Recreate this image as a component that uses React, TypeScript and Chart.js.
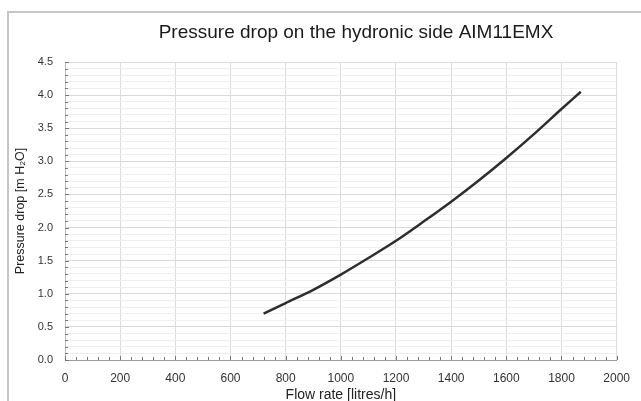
import React, { useEffect, useRef } from "react";
import { Chart, registerables } from "chart.js";

Chart.register(...registerables);

const TITLE = "Pressure drop on the hydronic side AIM11EMX";
const X_TITLE = "Flow rate [litres/h]";
const Y_TITLE = "Pressure drop [m H₂O]";

const flowRate = [720, 800, 900, 1000, 1100, 1200, 1300, 1400, 1500, 1600, 1700, 1800, 1870];
const pressureDrop = [0.70, 0.86, 1.06, 1.29, 1.54, 1.80, 2.09, 2.39, 2.71, 3.05, 3.41, 3.79, 4.05];

const X_MIN = 0;
const X_MAX = 2000;
const X_STEP = 200;
const X_MINOR = 40;
const Y_MIN = 0;
const Y_MAX = 4.5;
const Y_MINOR = 0.1;

const FONT = "'Liberation Sans', Arial, sans-serif";

const isMajorY = (v: number) => Math.abs(v * 2 - Math.round(v * 2)) < 1e-6;

const titlePlugin = {
  id: "customTitle",
  afterDraw(chart: any) {
    const { ctx } = chart;
    ctx.save();
    ctx.fillStyle = "#1a1a1a";
    ctx.font = `19px ${FONT}`;
    ctx.textAlign = "center";
    ctx.textBaseline = "middle";
    ctx.fillText(TITLE, 356, 33);
    ctx.restore();
  },
};

const minorTicksPlugin = {
  id: "minorTicks",
  afterDatasetsDraw(chart: any) {
    const { ctx, chartArea, scales } = chart;
    const xs = scales.x;
    const ys = scales.y;
    ctx.save();
    ctx.strokeStyle = "#777";
    ctx.lineWidth = 1;
    ctx.beginPath();
    for (let v = X_MIN; v <= X_MAX + 1e-6; v += X_MINOR) {
      const px = Math.round(xs.getPixelForValue(v)) + 0.5;
      const len = Math.abs(v % X_STEP) < 1e-6 ? 4 : 3;
      ctx.moveTo(px, chartArea.bottom);
      ctx.lineTo(px, chartArea.bottom - len);
    }
    for (let i = 0; i <= Math.round((Y_MAX - Y_MIN) / Y_MINOR); i++) {
      const v = Y_MIN + i * Y_MINOR;
      const py = Math.round(ys.getPixelForValue(v)) + 0.5;
      const len = isMajorY(v) ? 4 : 3;
      ctx.moveTo(chartArea.left, py);
      ctx.lineTo(chartArea.left + len, py);
    }
    ctx.stroke();
    ctx.restore();
  },
};

export default function App() {
  const ref = useRef<HTMLCanvasElement | null>(null);

  useEffect(() => {
    if (!ref.current) return;
    const chart = new Chart(ref.current, {
      type: "line",
      data: {
        datasets: [
          {
            data: flowRate.map((x, i) => ({ x, y: pressureDrop[i] })),
            borderColor: "#2e2e2e",
            borderWidth: 2.5,
            pointRadius: 0,
            tension: 0.3,
            fill: false,
          },
        ],
      },
      options: {
        responsive: false,
        animation: false,
        layout: { padding: { left: 0, right: 21, top: 62, bottom: 0 } },
        plugins: {
          legend: { display: false },
          tooltip: { enabled: false },
          title: { display: false },
        },
        scales: {
          x: {
            type: "linear",
            min: X_MIN,
            max: X_MAX,
            afterFit: (s: any) => {
              s.height = 41;
            },
            ticks: {
              stepSize: X_STEP,
              color: "#333",
              padding: 11,
              maxRotation: 0,
              font: { family: FONT, size: 12 },
              callback: (v: any) => String(v),
            },
            grid: { color: "#dcdcdc", drawTicks: false, lineWidth: 1 },
            border: { color: "#9a9a9a", width: 1 },
            title: {
              display: true,
              text: X_TITLE,
              color: "#222",
              font: { family: FONT, size: 14 },
              padding: { top: 0, bottom: -3 },
            },
          },
          y: {
            type: "linear",
            min: Y_MIN,
            max: Y_MAX,
            afterFit: (s: any) => {
              s.width = 65;
            },
            ticks: {
              stepSize: Y_MINOR,
              autoSkip: false,
              color: "#333",
              padding: 12,
              font: { family: FONT, size: 11 },
              callback: (v: any) => (isMajorY(Number(v)) ? Number(v).toFixed(1) : ""),
            },
            grid: {
              drawTicks: false,
              color: (c: any) => (isMajorY(c.tick.value) ? "#dadada" : "#efefef"),
              lineWidth: 1,
            },
            border: { color: "#bdbdbd", width: 1 },
            title: {
              display: true,
              text: Y_TITLE,
              color: "#222",
              font: { family: FONT, size: 12.5 },
              padding: { top: 13, bottom: 0 },
            },
          },
        },
      },
      plugins: [minorTicksPlugin, titlePlugin],
    });
    return () => chart.destroy();
  }, []);

  return (
    <div style={{ position: "fixed", left: 0, top: 0, width: 641, height: 401, background: "#fff", overflow: "hidden" }}>
      <div
        style={{
          position: "absolute",
          left: 7,
          top: 11,
          width: 700,
          height: 500,
          borderTop: "2px solid #c6c6c6",
          borderLeft: "2px solid #c6c6c6",
        }}
      />
      <canvas ref={ref} width={641} height={401} style={{ position: "absolute", left: 0, top: 0 }} />
    </div>
  );
}
